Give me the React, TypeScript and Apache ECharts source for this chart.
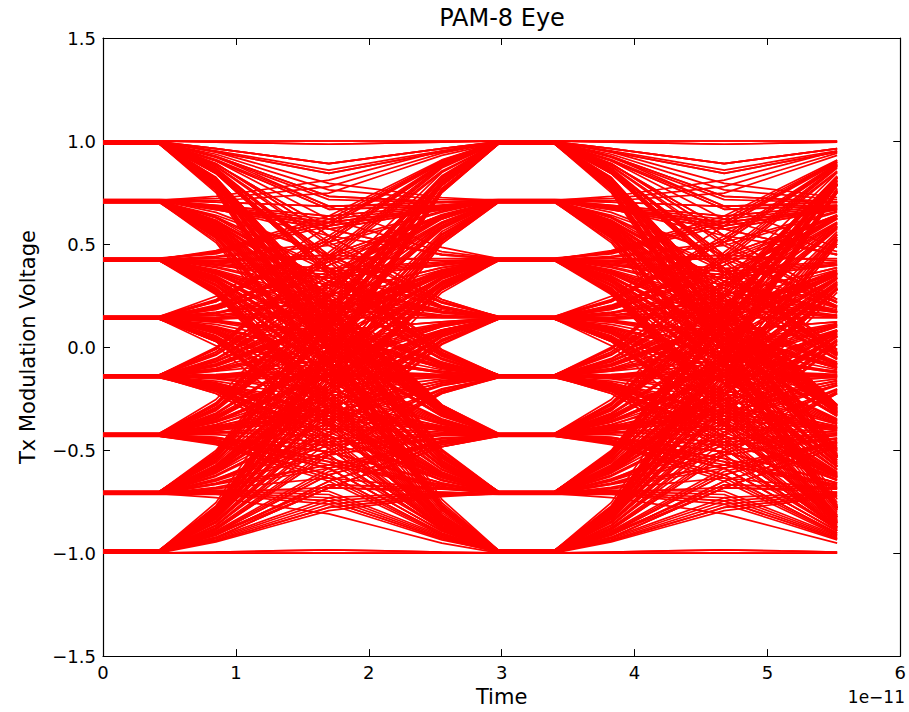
import React, { useEffect, useRef } from "react";
import * as echarts from "echarts";

// PAM-8 amplitude levels (normalised Tx voltage)
const LEVELS = [-1, -0.714, -0.429, -0.143, 0.143, 0.429, 0.714, 1];

// Transmitted symbol stream (indices into LEVELS)
const SYMBOLS =
  "3170642251736604127753013462270514436207155324761023571146052637401" +
  "2256173404716235570213667041532274150663127045521736402271605443176" +
  "0325147706231554020746133527604172256031477140653320715624076135542" +
  "1073662450317245501763247016635021547730462115760342275106433172056" +
  "62401533677777621447350126653071423517046625310742275436017" +
  "4617023357210664513072245176630412573015264473120567341106257443021" +
  "735062417153662043771502463315072641000001537742061335261704512206" +
  "4733150627144305271663025417520346613705224176";

// One side of the symmetric symbol response, offsets +1 .. +13 samples
// (h(k) = h(1 - k); the symbol holds its level on samples 0 and 1)
const PULSE_HALF = [
  0.992, 0.867, 0.655, 0.445, 0.2717, 0.0963,
  0.004, 0.004,
  0.0183, 0.0367, 0.055, 0.0367, 0.0183,
];

const SAMPLE_STEP = 0.425e-11; // seconds between samples
const SAMPLES_PER_SYMBOL = 7;
const SAMPLES_PER_TRACE = 14;

// x-axis ticks (units of 1e-11 s) and y-axis ticks
const X_TICKS = [0, 1, 2, 3, 4, 5, 6];
const Y_TICKS = [-1.5, -1.0, -0.5, 0.0, 0.5, 1.0, 1.5];

const FONT = "DejaVu Sans";

function pulseAt(offset: number): number {
  const idx = offset >= 1 ? offset - 1 : -offset;
  return idx < PULSE_HALF.length ? PULSE_HALF[idx] : 0;
}

function buildTraces(): number[][][] {
  const sym = SYMBOLS.split("").map((c) => LEVELS[Number(c)]);
  const reach = Math.ceil(PULSE_HALF.length / SAMPLES_PER_SYMBOL) + 1;
  const traces: number[][][] = [];
  for (let i = reach; i + reach < sym.length; i++) {
    const pts: number[][] = [];
    for (let k = 0; k < SAMPLES_PER_TRACE; k++) {
      let v = 0;
      for (let m = -reach; m <= reach; m++) {
        v += sym[i + m] * pulseAt(k - SAMPLES_PER_SYMBOL * m);
      }
      pts.push([k * SAMPLE_STEP, v]);
    }
    traces.push(pts);
  }
  return traces;
}

export default function App() {
  const ref = useRef<HTMLDivElement>(null);

  useEffect(() => {
    if (!ref.current) return;
    const chart = echarts.init(ref.current, undefined, { renderer: "svg" });
    const traces = buildTraces();
    const xScale = 1e-11;

    const frameLine = { show: true, onZero: false, lineStyle: { color: "#000", width: 1.2 } };
    const tick = { show: true, inside: true, length: 7, lineStyle: { color: "#000", width: 1 } };
    const tickText = { color: "#000", fontSize: 18, fontFamily: FONT };
    const nameText = { color: "#000", fontSize: 21, fontFamily: FONT };

    chart.setOption({
      animation: false,
      backgroundColor: "#fff",
      grid: { left: 103, right: 6, top: 38, bottom: 49, containLabel: false },
      xAxis: [
        {
          type: "value",
          position: "bottom",
          min: X_TICKS[0] * xScale,
          max: X_TICKS[X_TICKS.length - 1] * xScale,
          interval: xScale,
          axisLine: frameLine,
          axisTick: tick,
          splitLine: { show: false },
          axisLabel: {
            ...tickText,
            margin: 7,
            formatter: (v: number) => String(Math.round(v / xScale)),
          },
          name: "Time",
          nameLocation: "middle",
          nameGap: 27,
          nameTextStyle: nameText,
        },
        {
          type: "value",
          position: "top",
          min: X_TICKS[0] * xScale,
          max: X_TICKS[X_TICKS.length - 1] * xScale,
          interval: xScale,
          axisLine: frameLine,
          axisTick: tick,
          axisLabel: { show: false },
          splitLine: { show: false },
        },
      ],
      yAxis: [
        {
          type: "value",
          position: "left",
          min: Y_TICKS[0],
          max: Y_TICKS[Y_TICKS.length - 1],
          interval: 0.5,
          axisLine: frameLine,
          axisTick: tick,
          splitLine: { show: false },
          axisLabel: {
            ...tickText,
            margin: 7,
            formatter: (v: number) =>
              (v < 0 ? "\u2212" : "") + Math.abs(v).toFixed(1),
          },
          name: "Tx Modulation Voltage",
          nameLocation: "middle",
          nameRotate: 90,
          nameGap: 65,
          nameTextStyle: nameText,
        },
        {
          type: "value",
          position: "right",
          min: Y_TICKS[0],
          max: Y_TICKS[Y_TICKS.length - 1],
          interval: 0.5,
          axisLine: frameLine,
          axisTick: tick,
          axisLabel: { show: false },
          splitLine: { show: false },
        },
      ],
      graphic: [
        {
          type: "text",
          x: 502,
          y: 6,
          style: {
            text: "PAM-8 Eye",
            fill: "#000",
            fontSize: 24,
            fontFamily: FONT,
            textAlign: "center",
            textVerticalAlign: "top",
          },
        },
        {
          type: "text",
          right: 4,
          top: 688,
          style: {
            text: "1e\u221211",
            fill: "#000",
            fontSize: 17,
            fontFamily: FONT,
          },
        },
      ],
      series: traces.map((pts) => ({
        type: "line",
        xAxisIndex: 0,
        yAxisIndex: 0,
        data: pts,
        symbol: "none",
        silent: true,
        lineStyle: { color: "#ff0000", width: 1.7 },
      })),
    });

    return () => chart.dispose();
  }, []);

  return (
    <div
      ref={ref}
      style={{ position: "absolute", left: 0, top: 0, width: 909, height: 712 }}
    />
  );
}
